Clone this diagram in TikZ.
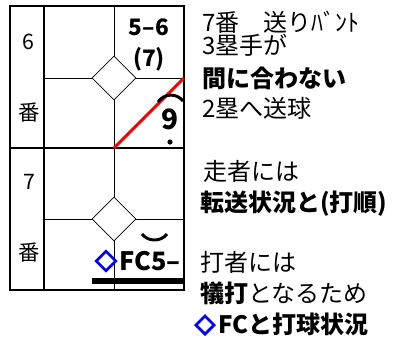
\documentclass[tikz,border=0pt]{standalone}
\usepackage{fontspec}
\setmainfont{Noto Sans CJK JP}
\usetikzlibrary{positioning, shapes.geometric}

\begin{document}
\begin{tikzpicture}[
    x=0.75pt, y=-0.75pt,
    frame/.style={line width=2pt, draw=black},
    grid/.style={line width=0.6pt, draw=black},
    base/.style={diamond, draw=black, line width=0.6pt, fill=white, minimum size=33pt, inner sep=0pt},
    gem/.style={diamond, draw=blue, line width=2pt, minimum size=15.5pt, inner sep=0pt},
    tally/.style={inner sep=0pt, font=\fontsize{17pt}{19pt}\selectfont\bfseries},
    num/.style={inner sep=0pt, font=\fontsize{16pt}{18pt}\selectfont},
    note/.style={anchor=west, inner sep=0pt, font=\fontsize{18pt}{20pt}\selectfont},
    boldnote/.style={note, font=\fontsize{18pt}{20pt}\selectfont\bfseries},
    hitline/.style={line width=2.2pt, draw=red},
    arcline/.style={line width=2.2pt, draw=black}
]
    \useasboundingbox (0,0) rectangle (402,340);

    % scorecard cells
    \coordinate (c1) at (114,78);
    \coordinate (c2) at (114,219);
    \draw[grid] (114,6) -- (114,148) (44,78) -- (184,78);
    \draw[grid] (114,148) -- (114,290) (44,219) -- (184,219);
    \node[base] (d1) at (c1) {};
    \node[base] (d2) at (c2) {};
    \draw[frame] (10,6) rectangle (184,290);
    \draw[frame] (44,6) -- (44,290) (10,148) -- (184,148);

    \node[num] (n6) at (28,42) {6};
    \node[num] (b6) at (29,113) {番};
    \node[num] (n7) at (29,182) {7};
    \node[num] (b7) at (29,253) {番};

    % first cell: bunt, throw to 2nd too late
    \node[tally] (res1) at (149,27) {5–6};
    \node[tally] (ord1) at (149,59) {(7)};
    \coordinate (hit1) at (114,148);
    \coordinate (edge1) at (184,78);
    \draw[hitline] (hit1) -- (edge1);
    \coordinate (arcl) at (158,102);
    \coordinate (arcr) at (183,101);
    \draw[arcline] (arcl) .. controls (164,93) and (177,93) .. (arcr);
    \node[tally, font=\fontsize{21pt}{23pt}\selectfont\bfseries] (fld1) at (170,119) {9};
    \fill (170,142) circle (2.6);

    % second cell
    \coordinate (sml) at (142,234);
    \coordinate (smr) at (167,234);
    \draw[arcline] (sml) .. controls (148,242) and (161,242) .. (smr);
    \node[gem] (g2) at (106,261) {};
    \node[tally, anchor=west, font=\fontsize{19pt}{21pt}\selectfont\bfseries] (fc2) at (119,261) {FC5–};
    \draw[line width=4.5pt] (92,281) -- (183,281);

    % notes
    \node[note] (t1) at (202,22) {7番　送りﾊﾞﾝﾄ};
    \node[note] (t2) at (202,45) {3塁手が};
    \node[boldnote] (t3) at (202,78) {間に合わない};
    \node[note] (t4) at (202,108) {2塁へ送球};
    \node[note] (t5) at (203,171) {走者には};
    \node[boldnote] (t6) at (200,204) {転送状況と(打順)};
    \node[note] (t7) at (200,262) {打者には};
    \node[note] (t8) at (200,293) {\textbf{犠打}となるため};
    \node[gem, minimum size=14.5pt] (g9) at (205,325) {};
    \node[boldnote] (t9) at (218,324) {FCと打球状況};
\end{tikzpicture}
\end{document}
